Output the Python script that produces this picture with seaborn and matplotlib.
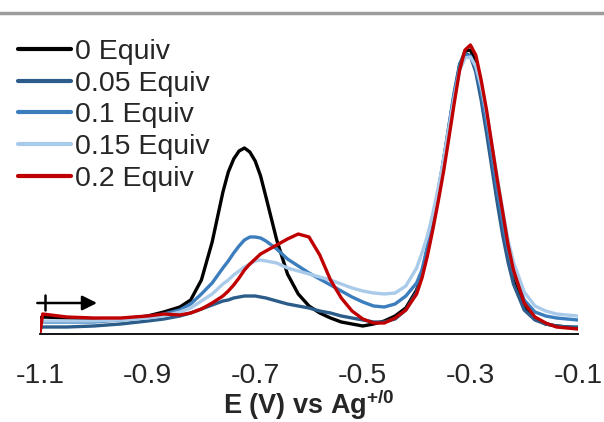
import numpy as np
import matplotlib
matplotlib.use('Agg')
import matplotlib.pyplot as plt
from matplotlib.lines import Line2D
import pandas as pd
import seaborn as sns

# potential grid (V vs Ag+/0)
potential = [-1.100, -1.095, -1.05, -1.00, -0.95, -0.90, -0.87, -0.84, -0.82, -0.80,
             -0.78, -0.76, -0.75, -0.74, -0.73, -0.72, -0.71, -0.70, -0.69, -0.68,
             -0.66, -0.64, -0.62, -0.60, -0.58, -0.56, -0.54, -0.52, -0.50, -0.48,
             -0.46, -0.44, -0.42, -0.40, -0.39, -0.38, -0.37, -0.36, -0.35, -0.34,
             -0.33, -0.32, -0.31, -0.30, -0.29, -0.28, -0.27, -0.26, -0.25, -0.24,
             -0.23, -0.22, -0.20, -0.18, -0.16, -0.14, -0.12, -0.10]

# current (arb. units)
eq_0 = [16, 17, 16, 15, 15, 18, 22, 27, 34, 54,
        92, 142, 162, 175, 183, 186, 182, 173, 158, 137,
        94, 60, 40, 28, 21, 16, 12, 10, 8, 10,
        13, 18, 26, 44, 60, 82, 108, 137, 168, 202,
        237, 268, 283, 284, 272, 246, 214, 178, 142, 109,
        79, 56, 27, 15, 10, 8, 7, 6]
eq_005 = [6, 7, 7, 8, 10, 13, 15, 18, 21, 25,
          29, 33, 34, 36, 37, 38, 38, 38, 37, 36,
          33, 30, 28, 26, 23, 21, 18, 16, 14, 12,
          12, 15, 24, 42, 62, 86, 113, 142, 174, 208,
          242, 270, 281, 278, 262, 234, 201, 166, 131, 99,
          72, 50, 24, 14, 10, 8, 7, 7]
eq_01 = [11, 12, 12, 12, 14, 17, 20, 24, 30, 40,
         51, 66, 73, 81, 88, 94, 97, 97, 96, 93,
         85, 75, 68, 61, 55, 49, 43, 37, 32, 28,
         27, 30, 38, 51, 64, 87, 113, 142, 173, 207,
         240, 268, 279, 278, 266, 242, 212, 178, 144, 112,
         84, 62, 34, 22, 18, 16, 15, 14]
eq_015 = [12, 13, 13, 13, 14, 16, 18, 22, 26, 33,
          40, 50, 54, 59, 63, 67, 70, 73, 74, 73,
          71, 66, 63, 60, 57, 54, 50, 46, 43, 41,
          40, 41, 48, 66, 81, 98, 120, 146, 174, 206,
          237, 264, 276, 277, 268, 248, 221, 189, 156, 124,
          94, 72, 42, 28, 23, 20, 19, 18]
eq_02 = [1, 20, 17, 16, 16, 18, 20, 19, 21, 25,
         31, 38, 43, 49, 56, 64, 70, 75, 80, 83,
         89, 95, 100, 97, 79, 54, 36, 23, 15, 11,
         11, 16, 24, 40, 56, 78, 104, 132, 162, 196,
         231, 264, 284, 289, 279, 254, 224, 189, 154, 122,
         89, 64, 31, 17, 11, 7, 6, 5]

labels = ['0 Equiv', '0.05 Equiv', '0.1 Equiv', '0.15 Equiv', '0.2 Equiv']
colors = ['#000000', '#2b5c8a', '#3b7dbd', '#a9cae9', '#c00000']
ticks = [-1.1, -0.9, -0.7, -0.5, -0.3, -0.1]

# scan direction arrow
arrow_start = (-1.105, 31)
arrow_end = (-0.994, 31)
arrow_tick_x = -1.091

series = [eq_0, eq_005, eq_01, eq_015, eq_02]
df = pd.concat([pd.DataFrame({'E': potential, 'I': s, 'eq': lab})
                for s, lab in zip(series, labels)], ignore_index=True)

sns.set_style('white')
plt.rcParams['font.family'] = ['Liberation Sans', 'DejaVu Sans']
plt.rcParams['mathtext.fontset'] = 'custom'
plt.rcParams['mathtext.bf'] = 'Liberation Sans:bold'
plt.rcParams['mathtext.rm'] = 'Liberation Sans:bold'

fig = plt.figure(figsize=(6.04, 4.22), dpi=100)
ax = fig.add_axes([40/604, 88/422, 538/604, 304/422])

sns.lineplot(data=df, x='E', y='I', hue='eq', palette=colors, linewidth=2.4,
             sort=False, ax=ax, legend=False)

ax.set_xlim(-1.1, -0.1)
ax.set_ylim(0, 304)
ax.set_yticks([])
ax.set_xticks(ticks)
ax.set_xticklabels(['%.1f' % t for t in ticks])
ax.tick_params(axis='x', length=0, pad=21, labelsize=20.5)
for sp in ['top', 'left', 'right']:
    ax.spines[sp].set_visible(False)
ax.spines['bottom'].set_color('black')
ax.spines['bottom'].set_linewidth(1.3)
ax.set_ylabel('')
ax.set_xlabel(r'E (V) vs Ag$^{\bf{+/0}}$', fontsize=19.5, fontweight='bold', labelpad=-1)

ax.annotate('', xy=arrow_end, xytext=arrow_start,
            arrowprops=dict(arrowstyle='-|>', color='black', lw=1.8,
                            mutation_scale=22, shrinkA=0, shrinkB=0),
            annotation_clip=False)
ax.plot([arrow_tick_x, arrow_tick_x], [24, 39], color='black', lw=1.8, clip_on=False)

handles = [Line2D([0], [0], color=c, lw=3) for c in colors]
fig.legend(handles, labels, loc='upper left', bbox_to_anchor=(18/604, 1-39/422),
           frameon=False, fontsize=20.5, handlelength=1.85, handletextpad=0.15,
           labelspacing=0.2, borderpad=0, borderaxespad=0)

fig.add_artist(Line2D([0, 1], [1-13/422, 1-13/422], color='#9c9c9c', lw=2.5,
                      transform=fig.transFigure))

fig.savefig('out.png', dpi=100)
